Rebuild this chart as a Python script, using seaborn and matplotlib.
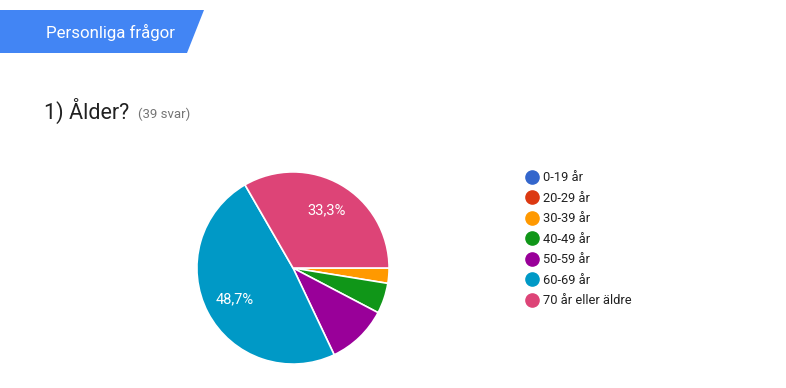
import matplotlib
matplotlib.use('Agg')
import matplotlib.pyplot as plt
from matplotlib.patches import Polygon
from matplotlib.lines import Line2D
import seaborn as sns

sns.set_theme(style='white')
plt.rcParams['font.family'] = ['Roboto', 'DejaVu Sans']

# Data (39 svar)
categories = ['0-19 år', '20-29 år', '30-39 år', '40-49 år', '50-59 år', '60-69 år', '70 år eller äldre']
counts = [0, 0, 1, 2, 4, 19, 13]
colors = ['#3366cc', '#dc3912', '#ff9900', '#109618', '#990099', '#0099c6', '#dd4477']
section_title = 'Personliga frågor'
question = '1) Ålder?'
n_answers = '(39 svar)'

W, H = 786, 388
fig = plt.figure(figsize=(W / 100, H / 100), dpi=100)
fig.patch.set_facecolor('white')

def fx(x):
    return x / W

def fy(y):
    return 1 - y / H

# Section banner
banner = Polygon([(fx(0), fy(10)), (fx(204), fy(10)), (fx(187), fy(53)), (fx(0), fy(53))],
                 closed=True, transform=fig.transFigure, facecolor='#4285f4', edgecolor='none')
fig.patches.append(banner)
fig.text(fx(110), fy(32), section_title, color='white', fontsize=12.2, ha='center', va='center')

# Question title
fig.text(fx(44), fy(119), question, color='#212121', fontsize=15.5, ha='left', va='baseline')
fig.text(fx(138), fy(118), n_answers, color='#757575', fontsize=9.5, ha='left', va='baseline')

# Pie
cx, cy, r = 293, 268, 98
ax = fig.add_axes([fx(cx - r), fy(cy + r), 2 * r / W, 2 * r / H])

def pct_label(p):
    return f'{p:.1f}%'.replace('.', ',') if p >= 20 else ''

wedges, texts, autotexts = ax.pie(
    counts, colors=colors, startangle=0, counterclock=False,
    autopct=pct_label, pctdistance=0.69,
    wedgeprops=dict(edgecolor='white', linewidth=1.2),
    textprops=dict(color='white', fontsize=10.5), radius=1)
ax.set_xlim(-1.02, 1.02)
ax.set_ylim(-1.02, 1.02)
ax.set_aspect('equal')
ax.axis('off')

# Legend
handles = [Line2D([0], [0], marker='o', linestyle='none', markersize=9.5,
                  markerfacecolor=c, markeredgecolor=c) for c in colors]
leg = fig.legend(handles, categories, loc='upper left',
                 bbox_to_anchor=(fx(517), fy(166)), frameon=False,
                 fontsize=9.3, labelspacing=0.58, handletextpad=0.15,
                 handlelength=1.5, borderaxespad=0)
for t in leg.get_texts():
    t.set_color('#212121')

fig.savefig('out.png', dpi=100, facecolor='white')
